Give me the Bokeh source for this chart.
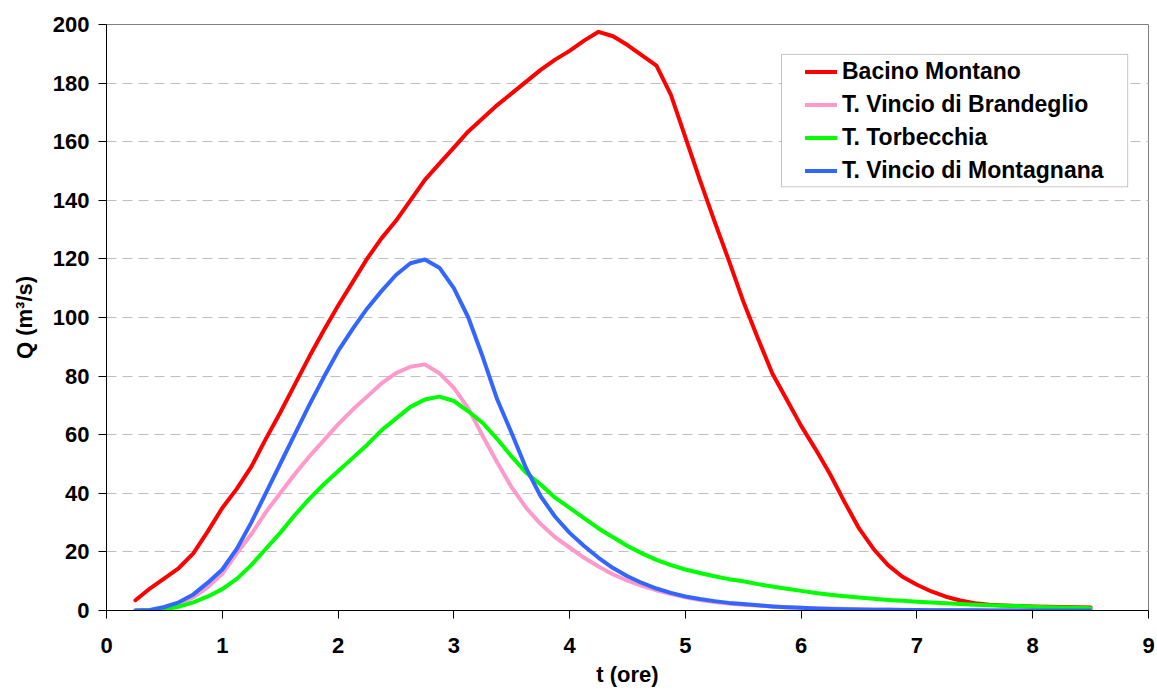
from bokeh.plotting import figure
from bokeh.models import Legend, LegendItem, BoxAnnotation, FixedTicker, Range1d, Title
from bokeh.embed import file_html
from bokeh.resources import INLINE

t = [0.25, 0.375, 0.5, 0.625, 0.75, 0.875, 1.0, 1.125, 1.25, 1.375, 1.5, 1.625,
     1.75, 1.875, 2.0, 2.125, 2.25, 2.375, 2.5, 2.625, 2.75, 2.875, 3.0, 3.125,
     3.25, 3.375, 3.5, 3.625, 3.75, 3.875, 4.0, 4.125, 4.25, 4.375, 4.5, 4.625,
     4.75, 4.875, 5.0, 5.125, 5.25, 5.375, 5.5, 5.625, 5.75, 5.875, 6.0, 6.125,
     6.25, 6.375, 6.5, 6.625, 6.75, 6.875, 7.0, 7.125, 7.25, 7.375, 7.5, 7.625,
     7.75, 7.875, 8.0, 8.125, 8.25, 8.375, 8.5]

bacino_montano = [3.5, 7.5, 11, 14.5, 19.5, 27, 35, 41.5, 49, 58.5, 67.5, 77,
                  86.5, 95.5, 104, 112, 120, 127, 133, 140, 147, 152.5, 158, 163.5,
                  168, 172.5, 176.5, 180.5, 184.5, 188, 191, 194.5, 197.5, 196, 193, 189.5,
                  186, 176, 161.5, 147, 133, 119.5, 105.5, 93, 81, 72, 63, 55,
                  46.5, 37, 28, 21, 15.5, 11.5, 8.8, 6.5, 4.7, 3.4, 2.5, 2.0,
                  1.7, 1.5, 1.4, 1.3, 1.2, 1.1, 1.0]
vincio_brandeglio = [0, 0.1, 0.6, 2, 4.5, 8, 12.5, 19.5, 26, 33.5, 40, 46.5,
                     52.5, 58, 63.5, 68.5, 73, 77.5, 81, 83.2, 84, 81, 76, 69,
                     59.5, 50.5, 42, 35, 29.5, 25, 21.5, 18, 15, 12.3, 10.2, 8.4,
                     6.9, 5.6, 4.5, 3.6, 2.9, 2.4, 2.0, 1.7, 1.4, 1.15, 0.95, 0.8,
                     0.65, 0.55, 0.45, 0.37, 0.3, 0.25, 0.2, 0.17, 0.14, 0.12, 0.1, 0.08,
                     0.07, 0.06, 0.05, 0.04, 0.04, 0.03, 0.03]
torbecchia = [0, 0, 0.4, 1.3, 2.8, 4.8, 7.3, 10.8, 15.5, 21, 26.5, 32.5,
              38, 43, 47.5, 52, 56.5, 61.5, 65.5, 69.5, 72, 73, 71.5, 68,
              64, 58.5, 52.5, 47, 43, 38.5, 35, 31.5, 28, 25, 22, 19.5,
              17.3, 15.5, 14, 12.8, 11.7, 10.7, 10, 9, 8.2, 7.4, 6.7, 6.0,
              5.4, 4.9, 4.4, 4.0, 3.6, 3.3, 3.0, 2.7, 2.5, 2.2, 2.0, 1.8,
              1.65, 1.5, 1.3, 1.15, 1.0, 0.9, 0.8]
vincio_montagnana = [0, 0.2, 1.2, 2.8, 5.5, 9.5, 14, 21, 30, 40, 50, 60,
                     70, 79.5, 88.5, 96, 103, 109, 114.5, 118.5, 119.8, 117, 110, 100,
                     86.5, 72, 60.5, 48.5, 39, 32, 26.5, 22, 18, 14.5, 11.7, 9.4,
                     7.5, 6, 4.8, 3.9, 3.2, 2.6, 2.2, 1.8, 1.4, 1.1, 0.9, 0.7,
                     0.55, 0.45, 0.35, 0.28, 0.22, 0.17, 0.13, 0.1, 0.08, 0.06, 0.05, 0.04,
                     0.03, 0.03, 0.02, 0.02, 0.02, 0.01, 0.01]

series_names = ["Bacino Montano", "T. Vincio di Brandeglio", "T. Torbecchia",
                "T. Vincio di Montagnana"]
series_colors = ["#FF0000", "#FF99CC", "#00FF00", "#3366FF"]
x_ticks = [0, 1, 2, 3, 4, 5, 6, 7, 8, 9]
y_ticks = [0, 20, 40, 60, 80, 100, 120, 140, 160, 180, 200]
x_title = "t (ore)"
y_title = "Q (m³/s)"

FONT = "Liberation Sans"

p = figure(width=1157, height=693, output_backend="svg", toolbar_location=None,
           x_range=Range1d(0, 9), y_range=Range1d(0, 200),
           min_border_left=106, min_border_right=9, min_border_top=24,
           min_border_bottom=83)
p.background_fill_color = "white"
p.border_fill_color = "white"
p.outline_line_color = "#808080"
p.outline_line_width = 1

for ax in (p.xaxis[0], p.yaxis[0]):
    ax.axis_line_color = "black"
    ax.axis_line_width = 1
    ax.major_tick_line_color = "black"
    ax.major_tick_in = 0
    ax.major_tick_out = 8
    ax.minor_tick_line_color = None
    ax.major_label_text_font = FONT
    ax.major_label_text_font_style = "bold"
    ax.major_label_text_font_size = "22px"
    ax.major_label_text_color = "black"
    ax.axis_label_text_font = FONT
    ax.axis_label_text_font_style = "bold"
    ax.axis_label_text_font_size = "22px"
    ax.axis_label_text_color = "black"

p.xaxis.ticker = FixedTicker(ticks=x_ticks)
p.yaxis.ticker = FixedTicker(ticks=y_ticks)
p.yaxis.axis_label = y_title
p.xaxis.major_label_standoff = 19
p.yaxis.major_label_standoff = 9
p.yaxis.axis_label_standoff = 13

# x-axis title as a centered title below the axis
p.add_layout(Title(text=x_title, align="center", text_font=FONT,
                   text_font_style="bold", text_font_size="22px",
                   text_color="black", standoff=9, offset=0), "below")

p.xgrid.grid_line_color = None
p.ygrid.grid_line_color = "#BFBFBF"
p.ygrid.grid_line_dash = "10 6"
p.ygrid.grid_line_width = 1

renderers = []
for vals, color in zip([bacino_montano, vincio_brandeglio, torbecchia, vincio_montagnana],
                       series_colors):
    r = p.line(t, vals, line_color=color, line_width=4, line_join="round",
               line_cap="round")
    renderers.append(r)

# legend box (white, gray border)
box = BoxAnnotation(left=5.83, right=8.82, bottom=144.6, top=189.8,
                    fill_color="white", fill_alpha=1.0,
                    line_color="#404040", line_width=1)
p.add_layout(box)

items = [LegendItem(label=n, renderers=[r]) for n, r in zip(series_names, renderers)]
legend = Legend(items=items, location=(699, 423), margin=0, padding=0,
                border_line_color=None, background_fill_alpha=0,
                label_text_font=FONT, label_text_font_style="bold",
                label_text_font_size="23px", label_text_color="black",
                glyph_width=32, glyph_height=33, label_height=33, spacing=0,
                label_standoff=5)
p.add_layout(legend, "center")

open("out.html", "w").write(file_html(p, INLINE))
